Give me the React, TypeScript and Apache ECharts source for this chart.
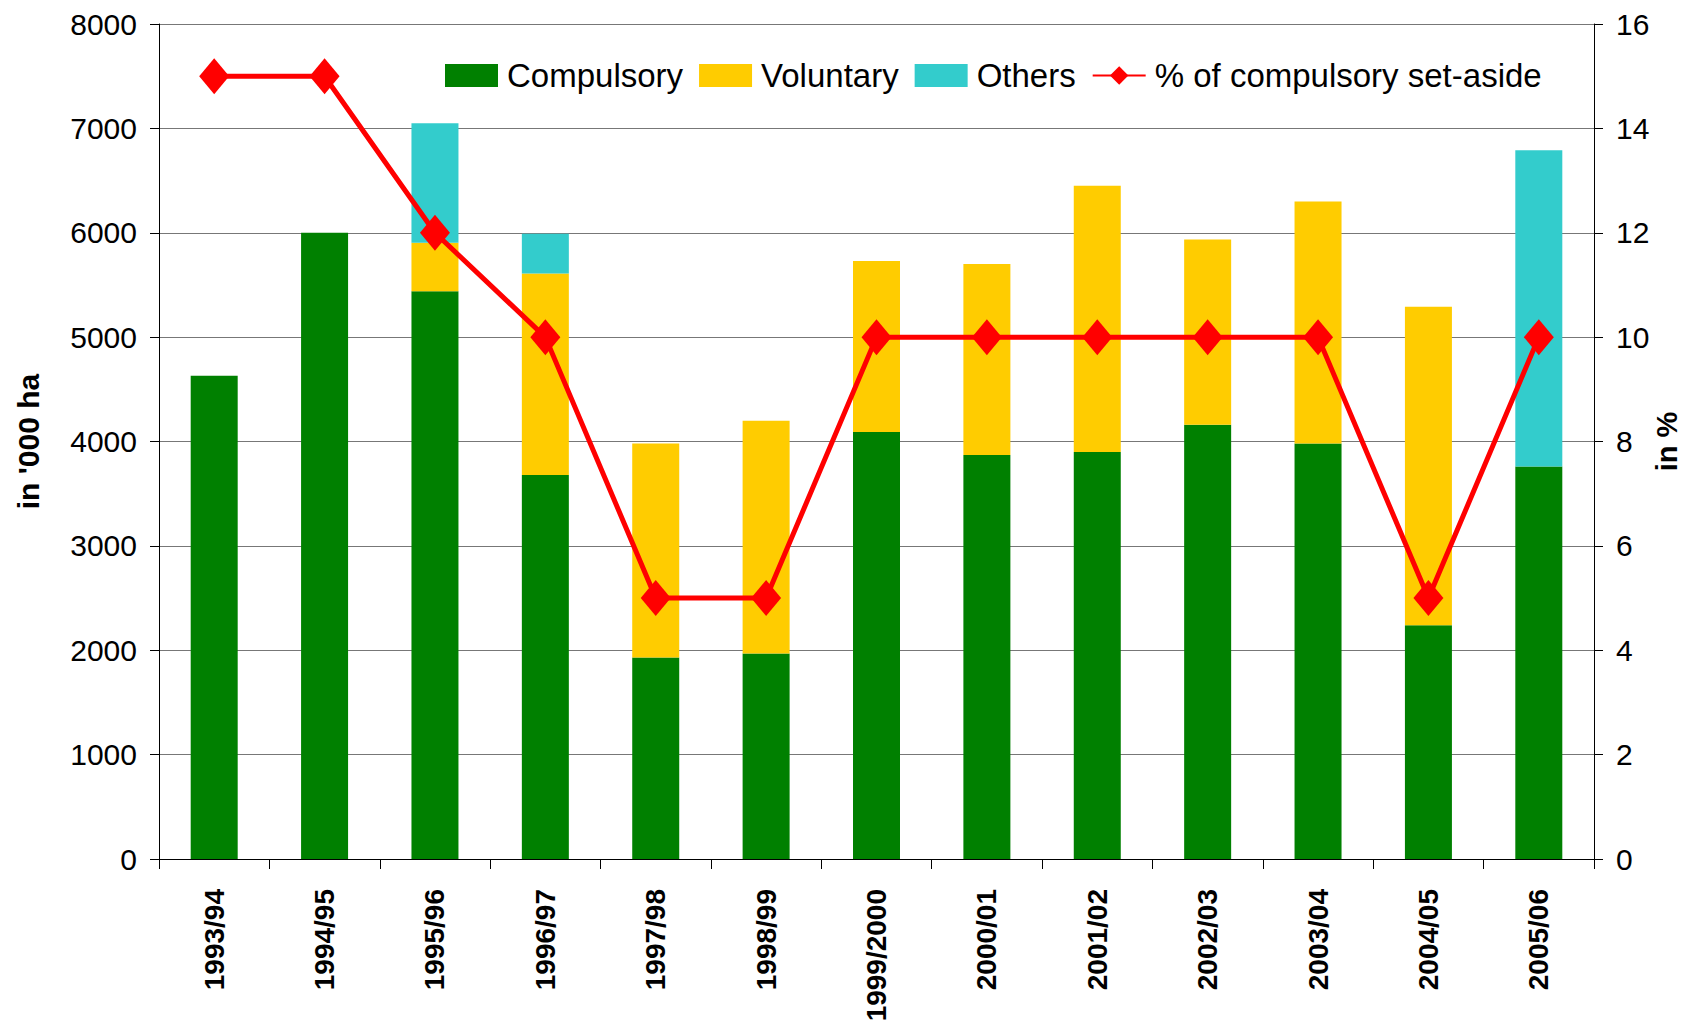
import React, { useEffect, useRef } from "react";
import * as echarts from "echarts";

const categories = [
  "1993/94", "1994/95", "1995/96", "1996/97", "1997/98", "1998/99", "1999/2000",
  "2000/01", "2001/02", "2002/03", "2003/04", "2004/05", "2005/06",
];
const compulsory = [4630, 6000, 5440, 3680, 1930, 1970, 4090, 3870, 3900, 4160, 3980, 2240, 3760];
const voluntary = [0, 0, 465, 1930, 2050, 2230, 1640, 1830, 2550, 1775, 2320, 3050, 0];
const others = [0, 0, 1145, 380, 0, 0, 0, 0, 0, 0, 0, 0, 3030];
const percentCompulsory = [15, 15, 12, 10, 5, 5, 10, 10, 10, 10, 10, 5, 10];

const SANS = "'Liberation Sans', Arial, sans-serif";

export default function App() {
  const ref = useRef<HTMLDivElement>(null);
  useEffect(() => {
    if (!ref.current) return;
    const chart = echarts.init(ref.current, null, { renderer: "svg" });
    chart.setOption({
      animation: false,
      backgroundColor: "#ffffff",
      grid: {
        left: 159,
        right: 93,
        top: 24,
        bottom: 164,
        containLabel: false,
        outerBoundsMode: "none",
      },
      legend: {
        left: 440,
        top: 54,
        itemWidth: 53,
        itemHeight: 23,
        itemGap: 16,
        textStyle: { fontFamily: SANS, fontSize: 33, color: "#000", padding: [0, 0, 0, 4] },
        data: [
          { name: "Compulsory", icon: "rect" },
          { name: "Voluntary", icon: "rect" },
          { name: "Others", icon: "rect" },
          { name: "% of compulsory set-aside" },
        ],
      },
      xAxis: {
        type: "category",
        data: categories,
        boundaryGap: true,
        axisLine: { lineStyle: { color: "#000", width: 1 } },
        axisTick: { show: true, length: 10, lineStyle: { color: "#000" } },
        axisLabel: {
          rotate: 90,
          margin: 30,
          fontFamily: SANS,
          fontWeight: "bold",
          fontSize: 28,
          color: "#000",
          interval: 0,
        },
      },
      yAxis: [
        {
          type: "value",
          min: 0,
          max: 8000,
          interval: 1000,
          name: "in '000 ha",
          nameLocation: "middle",
          nameRotate: 90,
          nameGap: 131,
          nameMoveOverlap: false,
          nameTextStyle: {
            fontFamily: SANS,
            fontWeight: "bold",
            fontSize: 30,
            color: "#000",
            align: "center",
            verticalAlign: "middle",
          },
          axisLine: { show: true, lineStyle: { color: "#000" } },
          axisTick: { show: true, length: 9, lineStyle: { color: "#000" } },
          axisLabel: {
            fontFamily: SANS,
            fontSize: 30,
            color: "#000",
            margin: 22,
            formatter: (v: number) => String(v),
          },
          splitLine: { show: true, lineStyle: { color: "#777", width: 1 } },
        },
        {
          type: "value",
          min: 0,
          max: 16,
          interval: 2,
          position: "right",
          name: "in %",
          nameLocation: "middle",
          nameRotate: 90,
          nameGap: 73,
          nameMoveOverlap: false,
          nameTextStyle: {
            fontFamily: SANS,
            fontWeight: "bold",
            fontSize: 29,
            color: "#000",
            align: "center",
            verticalAlign: "middle",
          },
          axisLine: { show: true, lineStyle: { color: "#000" } },
          axisTick: { show: true, length: 9, lineStyle: { color: "#000" } },
          axisLabel: {
            fontFamily: SANS,
            fontSize: 30,
            color: "#000",
            margin: 22,
            formatter: (v: number) => String(v),
          },
          splitLine: { show: false },
        },
      ],
      series: [
        {
          name: "Compulsory",
          type: "bar",
          stack: "total",
          barWidth: 47,
          itemStyle: { color: "#008000" },
          data: compulsory,
        },
        {
          name: "Voluntary",
          type: "bar",
          stack: "total",
          barWidth: 47,
          itemStyle: { color: "#FFCC00" },
          data: voluntary,
        },
        {
          name: "Others",
          type: "bar",
          stack: "total",
          barWidth: 47,
          itemStyle: { color: "#33CCCC" },
          data: others,
        },
        {
          name: "% of compulsory set-aside",
          type: "line",
          yAxisIndex: 1,
          symbol: "diamond",
          symbolSize: [30, 36],
          lineStyle: { color: "#FF0000", width: 5 },
          itemStyle: { color: "#FF0000" },
          data: percentCompulsory,
        },
      ],
    });
    return () => chart.dispose();
  }, []);
  return (
    <div
      ref={ref}
      style={{ width: 1687, height: 1023, position: "absolute", left: 0, top: 0 }}
    />
  );
}
